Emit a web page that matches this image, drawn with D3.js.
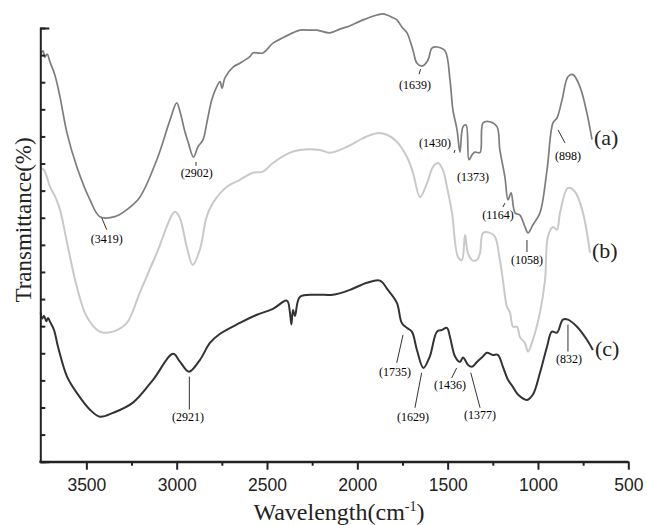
<!DOCTYPE html>
<html>
<head>
<meta charset="utf-8">
<script src="https://cdn.jsdelivr.net/npm/d3@7"></script>
<style>
  body { margin: 0; background: #fff; }
  svg { display: block; }
  .axis path, .axis line { stroke: #222; stroke-width: 2px; }
  .axis text { font-family: "Liberation Sans", Arial, sans-serif; font-size: 17.5px; fill: #222; }
  .peak { font-family: "Liberation Serif", "Times New Roman", serif; font-size: 12px; fill: #000; }
  .tag { font-family: "Liberation Serif", "Times New Roman", serif; font-size: 22px; fill: #222; }
  .axis-label { font-family: "Liberation Serif", "Times New Roman", serif; fill: #222; }
</style>
</head>
<body>
<div id="chart"></div>
<script>
// spectra: [wavenumber cm-1, transmittance (arb.)]
const seriesA = [
  [3754,75.0],[3740,75.8],[3730,74.6],[3717,75.2],[3701,73.7],[3674,71.3],[3646,67.3],[3607,60.6],
  [3553,54.4],[3480,48.3],[3425,45.2],[3342,45.2],[3276,46.5],[3204,48.8],[3110,55.7],[3037,63.0],
  [3000,66.2],[2981,64.5],[2954,60.8],[2937,59.0],[2907,56.2],[2882,58.1],[2854,59.4],[2832,62.7],
  [2806,66.7],[2782,68.9],[2760,70.1],[2749,68.9],[2733,70.8],[2688,72.8],[2650,73.5],[2595,74.7],
  [2578,75.4],[2523,75.4],[2467,77.2],[2412,78.2],[2357,79.1],[2318,79.6],[2262,79.6],[2223,79.6],
  [2152,79.1],[2096,79.8],[2057,80.2],[1968,81.5],[1891,82.4],[1858,82.6],[1836,82.4],[1809,82.0],
  [1781,81.5],[1754,80.2],[1725,79.1],[1692,75.9],[1670,73.5],[1639,73.0],[1609,74.1],[1587,76.3],
  [1559,76.5],[1515,75.8],[1487,70.4],[1471,64.9],[1448,61.2],[1432,57.1],[1415,61.8],[1398,62.1],
  [1382,55.7],[1365,56.6],[1349,57.1],[1321,57.0],[1304,62.5],[1266,62.7],[1227,61.8],[1211,57.5],
  [1183,52.5],[1166,48.3],[1149,49.6],[1127,45.9],[1100,45.5],[1072,43.3],[1055,42.2],[1028,43.7],
  [989,45.9],[950,53.8],[917,62.5],[895,63.4],[867,66.7],[834,71.0],[806,71.4],[767,69.1],
  [729,64.3],[701,59.4]
];

const seriesB = [
  [3754,54.2],[3734,53.8],[3701,50.7],[3674,49.0],[3646,46.5],[3607,40.4],[3553,32.3],[3497,26.7],
  [3425,24.0],[3353,24.0],[3276,25.6],[3204,31.2],[3110,38.5],[3010,46.1],[2983,45.0],[2944,39.6],
  [2911,36.3],[2872,39.1],[2834,45.2],[2800,47.7],[2722,50.7],[2650,52.0],[2578,53.3],[2523,53.5],
  [2467,55.1],[2373,57.0],[2318,57.5],[2207,57.5],[2152,57.0],[2057,58.1],[1968,59.7],[1891,60.6],
  [1836,60.3],[1781,59.0],[1725,56.2],[1692,53.3],[1653,48.8],[1614,51.4],[1581,54.4],[1553,55.1],
  [1526,53.8],[1504,50.7],[1476,45.9],[1443,37.8],[1421,37.2],[1404,41.8],[1388,38.5],[1365,37.2],
  [1338,37.2],[1321,38.5],[1304,42.2],[1266,42.2],[1238,41.5],[1211,37.2],[1194,33.5],[1172,28.6],
  [1155,27.5],[1138,24.9],[1116,24.9],[1100,23.0],[1072,21.9],[1055,20.3],[1028,22.5],[989,27.5],
  [961,33.5],[945,41.5],[917,43.3],[895,42.8],[878,45.9],[834,50.5],[795,49.8],[751,45.9],[712,38.5]
];

const seriesC = [
  [3753,27.5],[3745,26.4],[3734,26.9],[3722,25.9],[3712,26.5],[3701,25.8],[3679,24.3],[3657,21.2],
  [3607,15.7],[3553,12.7],[3480,9.6],[3425,8.3],[3353,9.0],[3242,10.9],[3131,15.1],[3020,19.9],
  [2981,18.4],[2932,16.6],[2871,18.8],[2816,21.9],[2760,23.6],[2650,25.6],[2556,27.1],[2467,28.2],
  [2390,29.7],[2373,27.5],[2365,25.3],[2356,28.0],[2345,26.9],[2318,30.4],[2224,30.8],[2135,30.8],
  [2041,31.7],[1947,33.0],[1875,33.4],[1831,31.7],[1781,29.3],[1754,25.6],[1726,24.7],[1698,24.0],
  [1670,20.6],[1634,17.3],[1599,19.4],[1559,24.0],[1532,24.3],[1504,24.7],[1487,23.0],[1459,19.4],
  [1432,18.4],[1415,19.2],[1388,17.9],[1366,17.5],[1338,18.4],[1305,19.4],[1283,20.1],[1250,19.7],
  [1222,19.7],[1194,17.5],[1166,15.1],[1139,13.8],[1111,12.4],[1061,11.4],[1028,12.4],[989,16.4],
  [950,21.2],[923,24.0],[895,23.8],[862,26.2],[834,26.2],[784,24.9],[729,22.5],[696,20.6]
];

const seriesNames = ["(a)", "(b)", "(c)"];

// peak labels: [text, wavenumber, transmittance at leader start]
const peaksA = [
  ["(3419)",3415,45.0],["(2902)",2893,55.3],["(1639)",1650,72.4],["(1430)",1459,57.5],
  ["(1373)",1360,52.5],["(1164)",1183,47.7],["(1058)",1061,40.9],["(898)",889,61.2]
];
const peaksC = [
  ["(2921)",2930,15.7],["(1735)",1747,23.4],["(1629)",1644,16.4],
  ["(1436)",1450,17.3],["(1377)",1372,16.4],["(832)",834,25.3]
];

const xMajor = [3500, 3000, 2500, 2000, 1500, 1000, 500];
const xMinor = [3250, 2750, 2250, 1750, 1250, 750];
const yTicks = d3.range(0, 81, 5);

// leader layout in px: [line dx, line dy, label dx, label dy]
const leader = {
  "(3419)": [5,12,5,21], "(2902)": [0,4,0.7,11], "(1639)": [-1.5,5,-5.5,16],
  "(1430)": [-1,3,-20,-7], "(1373)": null, "(1164)": [-2,4,-7,12],
  "(1058)": [0,12,0,20], "(898)": [7,13,10,26], "(2921)": [0,33,-1.3,40],
  "(1735)": [-6.3,28,-8,37], "(1629)": [-6.7,35,-8.7,44], "(1436)": [-5,10,-6.7,17],
  "(1377)": [9.3,35,9.3,42], "(832)": [0,27,1,34]
};

const W = 647, H = 525;
const plotLeft = 40.3, plotRight = 628.3, plotTop = 28, plotBottom = 461.7;

const svg = d3.select("#chart").append("svg").attr("width", W).attr("height", H);

const x = d3.scaleLinear().domain([3755, 500]).range([plotLeft, plotRight]);
const y = d3.scaleLinear().domain([0, 80]).range([plotBottom, plotTop]);

const line = d3.line()
  .x((d) => x(d[0]))
  .y((d) => y(d[1]))
  .curve(d3.curveCatmullRom.alpha(0.5));

const styles = [
  { color: "#7d7d7d", width: 1.7 },
  { color: "#c9c9c9", width: 2 },
  { color: "#333333", width: 2 }
];

[seriesA, seriesB, seriesC].forEach((s, i) => {
  svg.append("path")
    .datum(s)
    .attr("fill", "none")
    .attr("stroke", styles[i].color)
    .attr("stroke-width", styles[i].width)
    .attr("stroke-linejoin", "round")
    .attr("d", line);

  const end = s[s.length - 1];
  svg.append("text")
    .attr("class", "tag")
    .attr("x", x(end[0]) + 2)
    .attr("y", y(end[1]) - 2)
    .attr("dominant-baseline", "central")
    .text(seriesNames[i]);
});

// axes
svg.append("g")
  .attr("class", "axis")
  .attr("transform", `translate(0,${plotBottom})`)
  .call(d3.axisBottom(x).tickValues(xMinor).tickSize(4).tickSizeOuter(0).tickFormat(""));

const xg = svg.append("g")
  .attr("class", "axis")
  .attr("transform", `translate(0,${plotBottom})`)
  .call(d3.axisBottom(x).tickValues(xMajor).tickSize(8).tickSizeOuter(0).tickPadding(9)
    .tickFormat(d3.format("d")));
xg.select(".domain").attr("d", `M${plotLeft - 1},0H${plotRight}`);

svg.append("g")
  .attr("class", "axis")
  .attr("transform", `translate(${plotLeft},0)`)
  .call(d3.axisLeft(y).tickValues(yTicks).tickSizeInner(-5).tickSizeOuter(-9).tickFormat(""));

// peak labels
const drawPeaks = (peaks) => {
  peaks.forEach(([t, w, v]) => {
    const px = x(w), py = y(v);
    const o = leader[t];
    if (o) {
      svg.append("line")
        .attr("x1", px).attr("y1", py)
        .attr("x2", px + o[0]).attr("y2", py + o[1])
        .attr("stroke", "#333").attr("stroke-width", 1);
    }
    svg.append("text")
      .attr("class", "peak")
      .attr("x", px + (o ? o[2] : 0))
      .attr("y", py + (o ? o[3] : 0))
      .attr("text-anchor", "middle")
      .attr("dominant-baseline", "central")
      .text(t);
  });
};
drawPeaks(peaksA);
drawPeaks(peaksC);

// axis titles
const xl = svg.append("text")
  .attr("class", "axis-label")
  .attr("x", 339)
  .attr("y", 520)
  .attr("text-anchor", "middle")
  .style("font-size", "24px");
xl.append("tspan").text("Wavelength(cm");
xl.append("tspan").attr("dy", -9).style("font-size", "14px").text("-1");
xl.append("tspan").attr("dy", 9).text(")");

svg.append("text")
  .attr("class", "axis-label")
  .attr("transform", "translate(31,220) rotate(-90)")
  .attr("text-anchor", "middle")
  .style("font-size", "23px")
  .text("Transmittance(%)");
</script>
</body>
</html>
